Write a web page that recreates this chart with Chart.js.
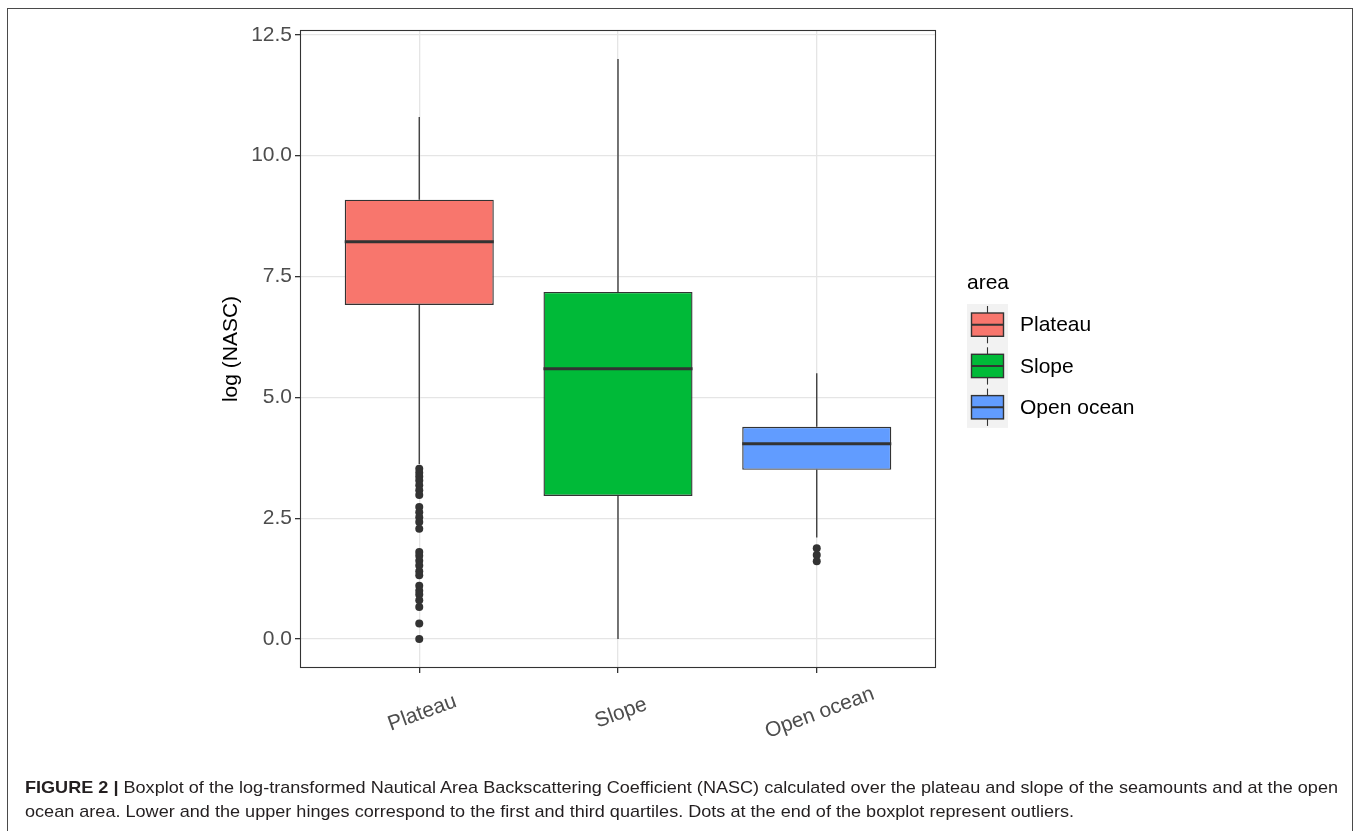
<!DOCTYPE html>
<html>
<head>
<meta charset="utf-8">
<script src="https://cdn.jsdelivr.net/npm/chart.js@4/dist/chart.umd.min.js"></script>
<style>
  html, body { margin: 0; padding: 0; background: #fff; overflow: hidden; }
  #wrap { position: relative; width: 1358px; height: 831px; }
  #frame { position: absolute; left: 7px; top: 8px; width: 1346px; height: 830px;
           border: 1.5px solid #4a4a4a; box-sizing: border-box; pointer-events: none; }
  canvas { position: absolute; left: 0; top: 0; }
  .capline { position: absolute; left: 25px; white-space: nowrap; transform-origin: 0 50%;
             font-family: "Liberation Sans", Arial, sans-serif; font-size: 17px;
             line-height: 22px; color: #231f20; }
  .capline b { font-weight: bold; }
</style>
</head>
<body>
<div id="wrap">
  <canvas id="c" width="1358" height="831"></canvas>
  <div id="frame"></div>
  <div class="capline" id="cap1" style="top:777px"><b>FIGURE 2 |</b> Boxplot of the log-transformed Nautical Area Backscattering Coefficient (NASC) calculated over the plateau and slope of the seamounts and at the open</div>
  <div class="capline" id="cap2" style="top:801px">ocean area. Lower and the upper hinges correspond to the first and third quartiles. Dots at the end of the boxplot represent outliers.</div>
</div>
<script>
// Areas and their box-plot statistics (log NASC)
const areas      = ['Plateau', 'Slope', 'Open ocean'];
const whiskerLow = [3.62, 0.00, 2.10];
const q1         = [6.91, 2.96, 3.50];
const median     = [8.22, 5.59, 4.04];
const q3         = [9.09, 7.18, 4.39];
const whiskerHigh= [10.80, 12.00, 5.50];
const areaColors = ['#F8766D', '#00BA38', '#619CFF'];

// Outlying observations per area
const outliersPlateau = [3.52, 3.44, 3.36, 3.28, 3.18, 3.08, 2.98,
                         2.73, 2.62, 2.52, 2.42, 2.28,
                         1.80, 1.72, 1.62, 1.52, 1.40, 1.32,
                         1.10, 1.00, 0.92, 0.80, 0.66,
                         0.32, 0.00];
const outliersSlope = [];
const outliersOpen = [1.88, 1.74, 1.61];

const yTicks = [0, 2.5, 5, 7.5, 10, 12.5];
const BOX_WIDTH = 0.75;
const INK = '#333333';

// Condensed caption: both lines share one horizontal squeeze
(function () {
  const l1 = document.getElementById('cap1'), l2 = document.getElementById('cap2');
  const k = 1313 / l1.getBoundingClientRect().width;
  [l1, l2].forEach(el => { el.style.transform = 'scaleX(' + k + ')'; });
})();

const outlierSets = [outliersPlateau, outliersSlope, outliersOpen];

const boxData = areas.map((a, i) => ({ x: i + 1, y: [q1[i], q3[i]] }));
const whiskerData = [];
areas.forEach((a, i) => {
  whiskerData.push({ x: i + 1, y: q3[i] }, { x: i + 1, y: whiskerHigh[i] }, { x: i + 1, y: null });
  whiskerData.push({ x: i + 1, y: q1[i] }, { x: i + 1, y: whiskerLow[i] }, { x: i + 1, y: null });
});
const medianData = [];
areas.forEach((a, i) => {
  medianData.push({ x: i + 1 - BOX_WIDTH / 2, y: median[i] }, { x: i + 1 + BOX_WIDTH / 2, y: median[i] }, { x: i + 1, y: null });
});
const outlierData = [];
outlierSets.forEach((set, i) => set.forEach(v => outlierData.push({ x: i + 1, y: v })));

const FONT = '"Liberation Sans", Arial, sans-serif';

// Panel border, rotated category labels and the boxplot-glyph legend
const decorations = {
  id: 'decorations',
  afterDraw(chart) {
    const { ctx, chartArea: ca, scales } = chart;
    ctx.save();
    ctx.strokeStyle = INK;
    ctx.lineWidth = 1.1;
    ctx.strokeRect(ca.left + 0.5, ca.top + 0.5, ca.right - ca.left - 1, ca.bottom - ca.top - 1);

    // category labels, tilted 20 degrees
    ctx.fillStyle = '#4d4d4d';
    ctx.font = '21px ' + FONT;
    ctx.textAlign = 'center';
    ctx.textBaseline = 'middle';
    areas.forEach((a, i) => {
      const px = scales.x.getPixelForValue(i + 1);
      ctx.save();
      ctx.translate(px + 3, ca.bottom + 45);
      ctx.rotate(-20 * Math.PI / 180);
      ctx.fillText(a, 0, 0);
      ctx.restore();
    });

    // legend
    const lx = 967, ly = 304, keyH = 41.3, keyW = 41;
    ctx.fillStyle = '#000';
    ctx.textAlign = 'left';
    ctx.font = '21px ' + FONT;
    ctx.fillText('area', lx, 283);
    ctx.fillStyle = '#f2f2f2';
    ctx.fillRect(lx, ly, keyW, keyH * areas.length);
    areas.forEach((a, i) => {
      const top = ly + i * keyH;
      const cx = lx + keyW / 2;
      ctx.strokeStyle = INK;
      ctx.lineWidth = 1.1;
      ctx.beginPath();
      ctx.moveTo(cx, top + 2); ctx.lineTo(cx, top + keyH - 2);
      ctx.stroke();
      ctx.fillStyle = areaColors[i];
      ctx.fillRect(lx + 4.5, top + 9, keyW - 9, keyH - 18);
      ctx.lineWidth = 1.4;
      ctx.strokeRect(lx + 4.5, top + 9, keyW - 9, keyH - 18);
      ctx.lineWidth = 2;
      ctx.beginPath();
      ctx.moveTo(lx + 4.5, top + keyH / 2); ctx.lineTo(lx + keyW - 4.5, top + keyH / 2);
      ctx.stroke();
      ctx.fillStyle = '#000';
      ctx.fillText(a, 1020, top + keyH / 2 + 1);
    });
    ctx.restore();
  }
};

new Chart(document.getElementById('c'), {
  data: {
    datasets: [
      { type: 'line', data: whiskerData, borderColor: INK, borderWidth: 1.3,
        pointRadius: 0, spanGaps: false, order: 4 },
      { type: 'bar', data: boxData, backgroundColor: areaColors, borderColor: INK,
        borderWidth: 1.4, borderSkipped: false, categoryPercentage: 1,
        barPercentage: BOX_WIDTH, order: 3 },
      { type: 'line', data: medianData, borderColor: INK, borderWidth: 3,
        pointRadius: 0, spanGaps: false, order: 2 },
      { type: 'scatter', data: outlierData, backgroundColor: INK, borderColor: INK,
        pointRadius: 4, borderWidth: 0, order: 1 }
    ]
  },
  options: {
    responsive: false,
    animation: false,
    events: [],
    layout: { padding: { left: 210, right: 422, top: 30, bottom: 0 } },
    plugins: { legend: { display: false }, tooltip: { enabled: false } },
    scales: {
      x: {
        type: 'linear', min: 0.4, max: 3.6, offset: false,
        afterBuildTicks: s => { s.ticks = areas.map((a, i) => ({ value: i + 1 })); },
        afterFit: s => { s.height = 163; },
        grid: { color: '#e5e5e5', lineWidth: 1.3, tickColor: INK, tickLength: 5,
                drawTicks: true, offset: false },
        border: { display: false },
        ticks: { display: false }
      },
      y: {
        type: 'linear', min: -0.6, max: 12.6,
        afterBuildTicks: s => { s.ticks = yTicks.map(v => ({ value: v })); },
        afterFit: s => { s.width = 90; },
        grid: { color: '#e5e5e5', lineWidth: 1.3, tickColor: INK, tickLength: 5 },
        border: { display: false },
        ticks: { color: '#4d4d4d', font: { size: 21, family: FONT }, padding: 3,
                 callback: v => v.toFixed(1) },
        title: { display: true, text: 'log (NASC)', color: '#000',
                 font: { size: 21, family: FONT }, padding: { top: 9, bottom: 0 } }
      }
    }
  },
  plugins: [decorations]
});
</script>
</body>
</html>
